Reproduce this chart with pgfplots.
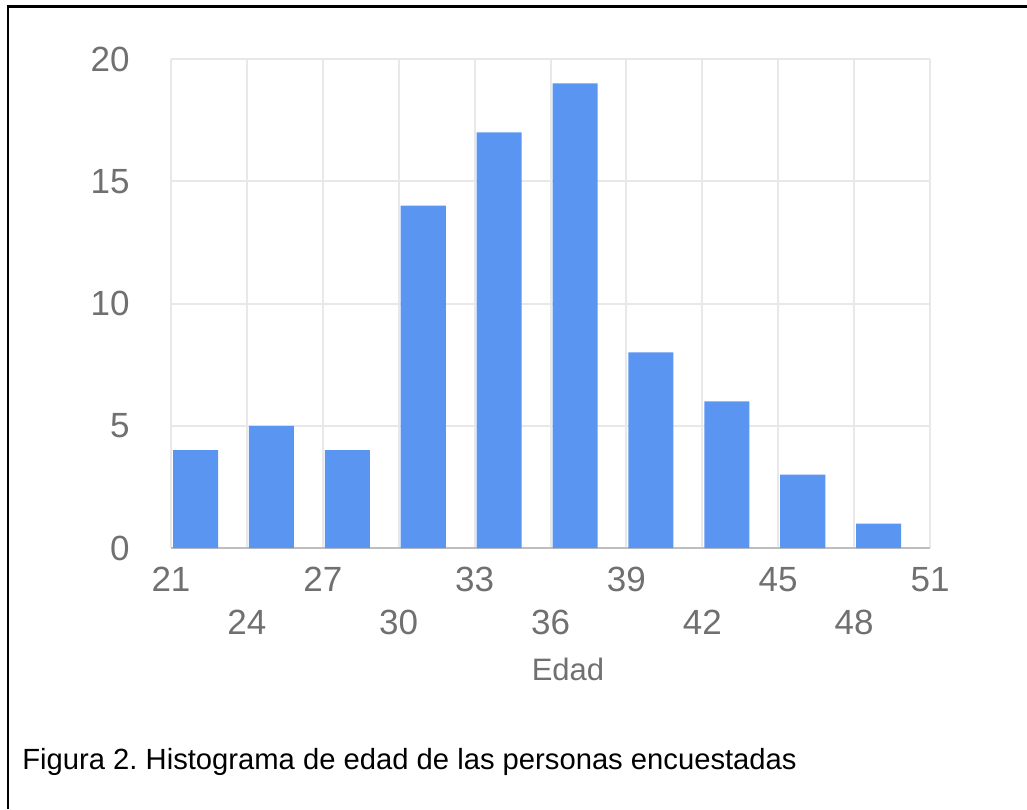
\documentclass[border=0pt]{standalone}
\usepackage{pgfplots}
\usepackage{pgfplotstable}
\pgfplotsset{compat=1.18}
\usepackage{fontspec}
\setmainfont{Liberation Sans}
\frenchspacing

\definecolor{barblue}{RGB}{91,149,242}
\definecolor{gridgray}{RGB}{232,232,232}
\definecolor{axisgray}{RGB}{190,190,190}
\definecolor{labelgray}{RGB}{112,112,112}

% age bins (left edge) and number of respondents
\pgfplotstableread{
start count
21 4
24 5
27 4
30 14
33 17
36 19
39 8
42 6
45 3
48 1
}\agedata

\begin{document}
\begin{tikzpicture}
\useasboundingbox (0,0) rectangle (513.5pt,-404.5pt);
% frame
\draw[line width=1.1pt, black] (4pt,-404.5pt) -- (4pt,-3.25pt) -- (513.5pt,-3.25pt);

\begin{axis}[
  at={(85.5pt,-274pt)}, anchor=south west,
  scale only axis,
  width=379.5pt, height=244.5pt,
  xmin=21, xmax=51, ymin=0, ymax=20,
  enlargelimits=false,
  axis x line*=bottom, axis y line*=left,
  x axis line style={axisgray, line width=1.3pt},
  y axis line style={draw=none},
  major tick length=0pt,
  xtick={21,24,...,51},
  xticklabels={21,\raisebox{-21.5pt}{24},27,\raisebox{-21.5pt}{30},33,\raisebox{-21.5pt}{36},39,\raisebox{-21.5pt}{42},45,\raisebox{-21.5pt}{48},51},
  ytick={0,5,...,20},
  xmajorgrids, ymajorgrids,
  grid style={gridgray, line width=1pt},
  /pgf/number format/assume math mode=true,
  tick label style={font=\fontsize{17.5}{20}\selectfont, text=labelgray, inner sep=0pt},
  xticklabel style={anchor=base, yshift=-21.9pt},
  yticklabel style={anchor=east, xshift=-20.5pt},
  clip=false,
]
\addplot[ybar, bar width=1.78, bar shift=0pt, fill=barblue, draw=none]
  table[x expr=\thisrow{start}+0.97, y=count] {\agedata};
\end{axis}

\node[anchor=base, text=labelgray, font=\fontsize{15.5}{18}\selectfont, inner sep=0pt] at (284pt,-340pt) {Edad};
\node[anchor=base west, font=\fontsize{14.6}{17}\selectfont, inner sep=0pt] at (11pt,-384.5pt) {Figura 2. Histograma de edad de las personas encuestadas};
\end{tikzpicture}
\end{document}
